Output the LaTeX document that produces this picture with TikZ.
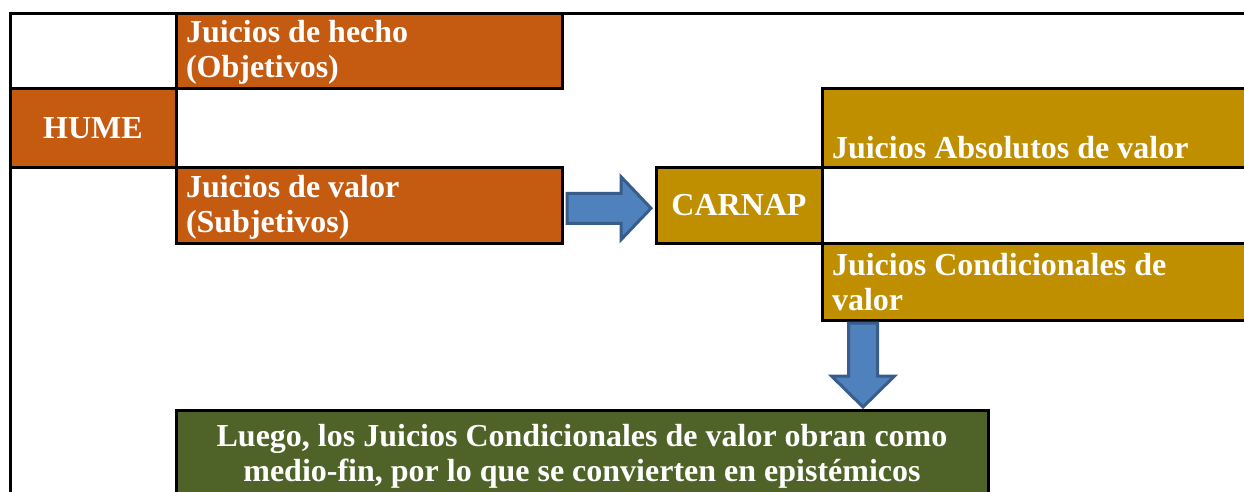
\documentclass[tikz,border=0pt]{standalone}
\usepackage{fontspec}
\setmainfont{Liberation Serif}
\usetikzlibrary{calc}
\definecolor{orng}{HTML}{C55A11}
\definecolor{goldc}{HTML}{BF8F00}
\definecolor{olivec}{HTML}{4F6228}
\definecolor{arrfill}{HTML}{4F81BD}
\definecolor{arredge}{HTML}{385D8A}
\begin{document}
\begin{tikzpicture}[x=1pt,y=-1pt,
  box/.style={draw=black, line width=3pt, inner sep=0pt, outer sep=0pt, anchor=north west},
  obox/.style={box, fill=orng},
  gbox/.style={box, fill=goldc},
  vbox/.style={box, fill=olivec},
  wbox/.style={box, fill=white},
  txt/.style={text=white, font=\bfseries\fontsize{32}{35}\selectfont, inner sep=0pt, outer sep=0pt},
  blockarrow/.style={fill=arrfill, draw=arredge, line width=3pt, line join=miter}]
\clip (0,0) rectangle (1244,491);
\fill[white] (0,0) rectangle (1244,491);
% frame lines
\coordinate (tlc) at (10,13);
\coordinate (trc) at (1260,13);
\coordinate (blc) at (10,500);
\draw[line width=3pt] (trc) -- (tlc) -- (blc);
% boxes
\node[wbox, minimum width=166pt, minimum height=75pt] (tl) at (10,13) {};
\node[obox, minimum width=166pt, minimum height=79.5pt] (hume) at (10,88) {};
\node[obox, minimum width=386pt, minimum height=75pt] (hecho) at (176,13) {};
\node[obox, minimum width=386pt, minimum height=75.5pt] (valor) at (176,167.5) {};
\node[gbox, minimum width=166pt, minimum height=75.5pt] (carnap) at (656,167.5) {};
\node[gbox, minimum width=438pt, minimum height=79.5pt] (abs) at (822,88) {};
\node[wbox, minimum width=438pt, minimum height=75.5pt] (mid) at (822,167.5) {};
\node[gbox, minimum width=438pt, minimum height=77pt] (cond) at (822,243) {};
\node[vbox, minimum width=812pt, minimum height=100pt] (green) at (176,410) {};
% texts
\node[txt, anchor=base west] (thecho) at ($(hecho.north west)+(10,29.3)$)
  {\begin{tabular}[t]{@{}l@{}}Juicios de hecho\\(Objetivos)\end{tabular}};
\node[txt] (thume) at (hume.center) {HUME};
\node[txt, anchor=base west] (tvalor) at ($(valor.north west)+(10,29.8)$)
  {\begin{tabular}[t]{@{}l@{}}Juicios de valor\\(Subjetivos)\end{tabular}};
\node[txt] (tcarnap) at (carnap.center) {CARNAP};
\node[txt, anchor=base west] (tabs) at ($(abs.south west)+(10,-9.5)$) {Juicios Absolutos de valor};
\node[txt, anchor=base west] (tcond) at ($(cond.north west)+(10,32)$)
  {\begin{tabular}[t]{@{}l@{}}Juicios Condicionales de\\valor\end{tabular}};
\node[txt, anchor=base] (tgreen) at ($(green.north)+(0,36)$)
  {\begin{tabular}[t]{@{}c@{}}Luego, los Juicios Condicionales de valor obran como\\medio-fin, por lo que se convierten en epistémicos\end{tabular}};
% block arrows
\coordinate (a1s) at ($(valor.east)+(5,3)$);
\coordinate (a1t) at ($(carnap.west)+(-5,3)$);
\draw[blockarrow] ($(a1s)+(0,-15)$) -- ($(a1s)+(54,-15)$) -- ($(a1s)+(54,-31.5)$) -- (a1t)
  -- ($(a1s)+(54,31.5)$) -- ($(a1s)+(54,15)$) -- ($(a1s)+(0,15)$) -- cycle;
\coordinate (a2s) at ($(cond.south west)+(41,3)$);
\coordinate (a2t) at ($(green.north west)+(687,-3)$);
\draw[blockarrow] ($(a2s)+(-14.5,0)$) -- ($(a2s)+(14.5,0)$) -- ($(a2s)+(14.5,53)$) -- ($(a2s)+(31.5,53)$)
  -- (a2t) -- ($(a2s)+(-31.5,53)$) -- ($(a2s)+(-14.5,53)$) -- cycle;
\end{tikzpicture}
\end{document}
